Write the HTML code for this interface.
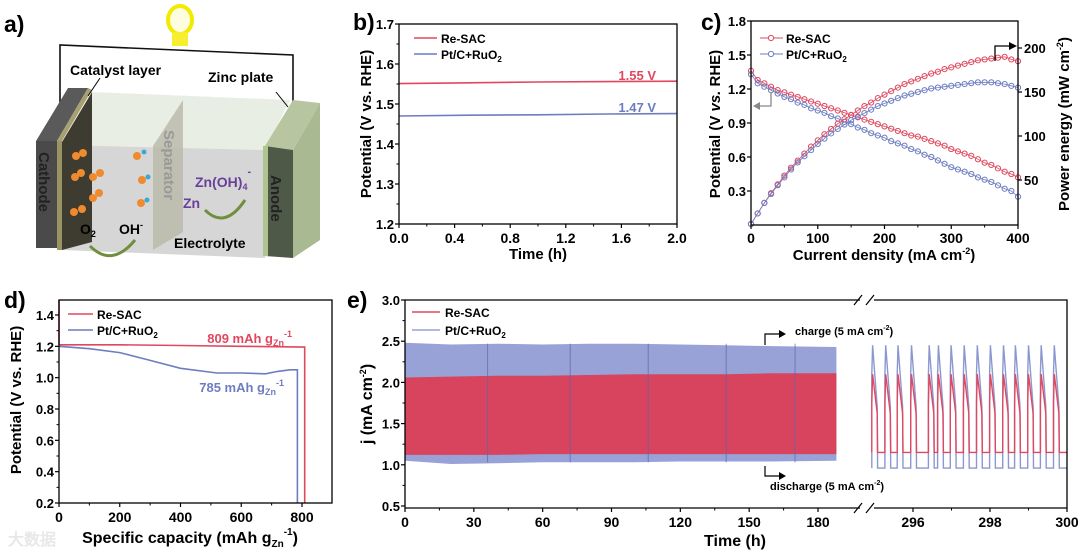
<!DOCTYPE html>
<html><head><meta charset="utf-8">
<style>
html,body{margin:0;padding:0;background:#fff;}
svg{display:block;font-family:"Liberation Sans",Arial,sans-serif;font-weight:bold;}
text{font-weight:bold;}
</style></head>
<body>
<svg id="fig" width="1080" height="552" viewBox="0 0 1080 552">
<g>
  <text x="4" y="32" font-size="23">a)</text>
  <polyline points="60,115 60,45 293,55 293,130" fill="none" stroke="#111" stroke-width="1.6"/>
  <g>
    <ellipse cx="180" cy="20" rx="12" ry="14" fill="#fffde0" stroke="#f2ea00" stroke-width="4"/>
    <rect x="172" y="32" width="16" height="14" fill="#f7ee30"/>
  </g>
  <polygon points="62,145 265,150 290,100 92,92" fill="#e9eee4"/>
  <polygon points="62,145 265,150 265,258 62,250" fill="#d6d6d6"/>
  <polygon points="62,142 92,92 92,242 62,250" fill="#3e3b31"/>
  <polygon points="36,141 57,141 57,248 36,248" fill="#4a4a4a"/>
  <polygon points="36,141 57,141 88,88 68,88" fill="#5a5a5a"/>
  <polygon points="57,141 62,141 62,250 57,250" fill="#9a9462"/>
  <polygon points="57,141 62,141 92,90 88,88" fill="#a7a070"/>
  <polygon points="153,146 183,100 183,232 153,250" fill="#b8b8a8" opacity="0.8"/>
  <polygon points="265,146 293,100 320,103 293,150" fill="#b7c6a0"/>
  <polygon points="293,150 320,103 320,240 293,258" fill="#a9ba92"/>
  <polygon points="265,146 293,150 293,258 265,256" fill="#4e5947"/>
  <polygon points="263,146 268,146 268,256 263,256" fill="#b0c490"/>
  <text x="0" y="0" font-size="15" fill="#222" transform="translate(39,152) rotate(90)">Cathode</text>
  <text x="0" y="0" font-size="15" fill="#999" transform="translate(164,130) rotate(90)">Separator</text>
  <text x="0" y="0" font-size="15" fill="#222" transform="translate(271,175) rotate(90)">Anode</text>
  <text x="70" y="75" font-size="14">Catalyst layer</text>
  <text x="208" y="82" font-size="14">Zinc plate</text>
  <line x1="88" y1="96" x2="100" y2="78" stroke="#000" stroke-width="1"/>
  <line x1="288" y1="107" x2="276" y2="92" stroke="#000" stroke-width="1"/>
  <g fill="#ef8a2e">
    <circle cx="76" cy="156" r="4"/><circle cx="83" cy="153" r="4"/>
    <circle cx="75" cy="177" r="4"/><circle cx="81" cy="173" r="4"/>
    <circle cx="93" cy="177" r="4"/><circle cx="100" cy="173" r="4"/>
    <circle cx="93" cy="198" r="4"/><circle cx="99" cy="193" r="4"/>
    <circle cx="74" cy="212" r="4"/><circle cx="82" cy="209" r="4"/>
    <circle cx="137" cy="156" r="4"/><circle cx="142" cy="180" r="4"/><circle cx="141" cy="203" r="4"/>
  </g>
  <g fill="#3aa8d8"><circle cx="144" cy="152" r="2.5"/><circle cx="148" cy="177" r="2.5"/><circle cx="147" cy="200" r="2.5"/></g>
  <text x="80" y="234" font-size="14">O<tspan font-size="9" dy="3">2</tspan></text>
  <text x="119" y="234" font-size="14">OH<tspan font-size="9" dy="-6">-</tspan></text>
  <text x="174" y="248" font-size="14">Electrolyte</text>
  <text x="195" y="187" font-size="14" fill="#6a3f9a">Zn(OH)<tspan font-size="9" dy="3">4</tspan><tspan font-size="11" dy="-15">-</tspan></text>
  <text x="183" y="208" font-size="14" fill="#6a3f9a">Zn</text>
  <path d="M205,210 Q225,230 245,200" fill="none" stroke="#6f8f3f" stroke-width="3"/>
  <path d="M90,246 Q112,268 135,240" fill="none" stroke="#6f8f3f" stroke-width="3"/>
</g>
<g id="charts"></g>
</svg>
<script>
// ---------- DATA ----------
const bTimes = [0, 0.5, 1.0, 1.5, 2.0];
const bReSAC = [1.551, 1.553, 1.555, 1.556, 1.557];
const bPtC = [1.470, 1.472, 1.473, 1.475, 1.476];
const bYTicks = [1.2, 1.3, 1.4, 1.5, 1.6, 1.7];
const bXTicks = [0.0, 0.4, 0.8, 1.2, 1.6, 2.0];

const cCurrent = [0,10,20,30,40,50,60,70,80,90,100,110,120,130,140,150,160,170,180,190,200,210,220,230,240,250,260,270,280,290,300,310,320,330,340,350,360,370,380,390,400];
const cReV = [1.36,1.28,1.25,1.22,1.19,1.17,1.15,1.13,1.11,1.09,1.07,1.05,1.03,1.01,0.99,0.97,0.95,0.93,0.91,0.89,0.87,0.85,0.83,0.81,0.79,0.78,0.76,0.74,0.72,0.70,0.67,0.65,0.63,0.61,0.58,0.55,0.53,0.50,0.47,0.45,0.42];
const cPtV = [1.33,1.25,1.22,1.19,1.16,1.13,1.11,1.08,1.06,1.03,1.01,0.99,0.96,0.94,0.91,0.89,0.86,0.84,0.81,0.79,0.77,0.74,0.72,0.70,0.67,0.65,0.62,0.60,0.57,0.54,0.51,0.49,0.47,0.45,0.42,0.40,0.38,0.35,0.32,0.30,0.25];
const cReP = [0,12,24,35,45,55,64,72,80,88,95,102,108,114,119,124,129,134,138,143,147,151,155,159,162,165,168,171,173,176,178,180,182,184,186,187,188,189,190,187,185];
const cPtP = [0,12,24,34,44,53,62,70,77,84,91,97,103,108,113,118,122,126,130,134,137,140,143,146,148,150,152,154,155,156,157,158,159,160,161,161,161,160,159,157,155];
const cYTicks = [0.3,0.6,0.9,1.2,1.5,1.8];
const cY2Ticks = [50,100,150,200];
const cXTicks = [0,100,200,300,400];

const dReCap = [0, 200, 400, 600, 809, 809];
const dReV = [1.21, 1.21, 1.205, 1.20, 1.195, 0.2];
const dPtCap = [0, 100, 200, 300, 400, 520, 600, 680, 720, 760, 785, 785];
const dPtV = [1.20, 1.185, 1.16, 1.11, 1.06, 1.03, 1.03, 1.025, 1.04, 1.05, 1.05, 0.2];
const dYTicks = [0.2,0.4,0.6,0.8,1.0,1.2,1.4];
const dXTicks = [0,200,400,600,800];

const eBandTimes = [0, 20, 40, 60, 80, 100, 120, 140, 160, 188];
const ePtTop = [2.48, 2.46, 2.47, 2.46, 2.47, 2.47, 2.46, 2.45, 2.44, 2.43];
const ePtBottom = [1.05, 1.01, 1.02, 1.03, 1.03, 1.03, 1.04, 1.04, 1.04, 1.05];
const eReTop = [2.06, 2.07, 2.08, 2.08, 2.09, 2.10, 2.10, 2.10, 2.11, 2.11];
const eReBottom = [1.12, 1.12, 1.12, 1.13, 1.13, 1.13, 1.13, 1.13, 1.13, 1.13];
const eGridTimes = [36, 72, 106, 140, 170];
const eCyclePeaks = [294.95,295.29,295.61,295.96,296.42,296.66,296.99,297.33,297.67,298.01,298.35,298.66,299.0,299.33,299.67];
const eReHigh = 2.1, eReLow = 1.15, ePtHigh = 2.45, ePtLow = 0.96;
const eYTicks = [0.5,1.0,1.5,2.0,2.5,3.0];
const eXTicksLeft = [0,30,60,90,120,150,180];
const eXTicksRight = [296,298,300];

// ---------- HELPERS ----------
const NS = "http://www.w3.org/2000/svg";
const root = document.getElementById('charts');
function mk(tag, attrs, parent) {
  const el = document.createElementNS(NS, tag);
  for (const k in attrs) el.setAttribute(k, attrs[k]);
  (parent || root).appendChild(el);
  return el;
}
function lin(d0, d1, r0, r1) { return v => r0 + (v - d0) * (r1 - r0) / (d1 - d0); }
function txt(x, y, s, size, anchor, fill, parent) {
  const t = mk('text', {x: x, y: y, 'font-size': size, 'text-anchor': anchor || 'middle', fill: fill || '#000'}, parent);
  t.innerHTML = s;
  return t;
}
function frame(x0, y0, x1, y1, name) {
  const r = mk('rect', {x: x0, y: y0, width: x1 - x0, height: y1 - y0, fill: 'none', stroke: '#000', 'stroke-width': 1.3});
  
  
}
function yAxis(ticks, sy, x, side, fmt, name, minor) {
  const g = mk('g', {});
  
  
  const dir = side === 'left' ? -1 : 1;
  ticks.forEach((v, i) => {
    mk('line', {x1: x, x2: x + dir * 4, y1: sy(v), y2: sy(v), stroke: '#000', 'stroke-width': 1.2}, g);
    const t = txt(side === 'left' ? x - 5 : x + 6, sy(v) + 5, fmt(v), 13, side === 'left' ? 'end' : 'start', '#000', g);
    
    
    if (minor && i < ticks.length - 1) {
      const m = (v + ticks[i + 1]) / 2;
      mk('line', {x1: x, x2: x + dir * 2.5, y1: sy(m), y2: sy(m), stroke: '#000', 'stroke-width': 1}, g);
    }
  });
}
function xAxis(ticks, sx, y, fmt, name, minor, ly) {
  const g = mk('g', {});
  
  
  ticks.forEach((v, i) => {
    mk('line', {x1: sx(v), x2: sx(v), y1: y, y2: y + 4, stroke: '#000', 'stroke-width': 1.2}, g);
    const t = txt(sx(v), ly, fmt(v), 14, 'middle', '#000', g);
    
    
    if (minor && i < ticks.length - 1) {
      const m = (v + ticks[i + 1]) / 2;
      mk('line', {x1: sx(m), x2: sx(m), y1: y, y2: y + 2.5, stroke: '#000', 'stroke-width': 1}, g);
    }
  });
}
function pathFrom(xs, ys, sx, sy) {
  return xs.map((v, i) => (i ? 'L' : 'M') + sx(v).toFixed(1) + ',' + sy(ys[i]).toFixed(1)).join(' ');
}
const RED = '#e0485f', BLUE = '#6d7dc0';

// ---------- PANEL B ----------
(function () {
  const sx = lin(0, 2, 399, 677), sy = lin(1.2, 1.7, 224, 24);
  txt(353, 30, 'b)', 23, 'start');
  const p1 = mk('path', {d: pathFrom(bTimes, bReSAC, sx, sy), fill: 'none', stroke: RED, 'stroke-width': 1.6});
  
  
  const p2 = mk('path', {d: pathFrom(bTimes, bPtC, sx, sy), fill: 'none', stroke: BLUE, 'stroke-width': 1.6});
  
  
  frame(399, 24, 677, 224, 'panel-b-frame');
  yAxis(bYTicks, sy, 399, 'left', v => v.toFixed(1), 'panel-b-y-axis', true);
  xAxis(bXTicks, sx, 224, v => v.toFixed(1), 'panel-b-x-axis', true, 243);
  txt(538, 259, 'Time (h)', 15);
  const yt = txt(0, 0, 'Potential (V vs. RHE)', 15);
  yt.setAttribute('transform', 'translate(371,124) rotate(-90)');
  
  txt(656, 80, '1.55 V', 13, 'end', RED);
  txt(656, 112, '1.47 V', 13, 'end', BLUE);
  const lg = mk('g', {});
  
  
  mk('line', {x1: 414, x2: 437, y1: 38, y2: 38, stroke: RED, 'stroke-width': 1.6}, lg);
  txt(441, 43, 'Re-SAC', 12, 'start', '#000', lg);
  mk('line', {x1: 414, x2: 437, y1: 54, y2: 54, stroke: BLUE, 'stroke-width': 1.6}, lg);
  txt(441, 59, 'Pt/C+RuO<tspan font-size="8" dy="3">2</tspan>', 12, 'start', '#000', lg);
})();

// ---------- PANEL C ----------
(function () {
  const sx = lin(0, 400, 751, 1018), sy = lin(0, 1.8, 225, 21), sy2 = lin(0, 200, 224, 48);
  txt(701, 30, 'c)', 23, 'start');
  const series = [[cReV, sy, RED, 're-sac-polarization'], [cPtV, sy, BLUE, 'ptc-polarization'], [cReP, sy2, RED, 're-sac-power'], [cPtP, sy2, BLUE, 'ptc-power']];
  series.forEach(s => {
    const g = mk('g', {fill: 'none', stroke: s[2], 'stroke-width': 1});
    
    
    cCurrent.forEach((c, i) => {
      const m = mk('circle', {cx: sx(c), cy: s[1](s[0][i]), r: 2.6}, g);
      
    });
    mk('path', {d: pathFrom(cCurrent, s[0], sx, s[1]), 'stroke-width': 0.8}, g);
  });
  frame(751, 21, 1018, 225, 'panel-c-frame');
  yAxis(cYTicks, sy, 751, 'left', v => v.toFixed(1), 'panel-c-y-axis', false);
  yAxis(cY2Ticks, sy2, 1018, 'right', v => String(v), 'panel-c-y2-axis', false);
  xAxis(cXTicks, sx, 225, v => String(v), 'panel-c-x-axis', true, 243);
  txt(884, 260, 'Current density (mA cm<tspan font-size="9" dy="-6">-2</tspan><tspan dy="6">)</tspan>', 15);
  const yt = txt(0, 0, 'Potential (V <tspan font-style="italic">vs.</tspan> RHE)', 15);
  yt.setAttribute('transform', 'translate(720,124) rotate(-90)');
  
  const y2 = txt(0, 0, 'Power energy (mW cm<tspan font-size="9" dy="-6">-2</tspan><tspan dy="6">)</tspan>', 15);
  y2.setAttribute('transform', 'translate(1069,124) rotate(-90)');
  
  const lg = mk('g', {});
  
  
  mk('line', {x1: 760, x2: 783, y1: 38, y2: 38, stroke: RED}, lg);
  mk('circle', {cx: 771, cy: 38, r: 2.6, fill: '#fff', stroke: RED}, lg);
  txt(786, 43, 'Re-SAC', 12, 'start', '#000', lg);
  mk('line', {x1: 760, x2: 783, y1: 54, y2: 54, stroke: BLUE}, lg);
  mk('circle', {cx: 771, cy: 54, r: 2.6, fill: '#fff', stroke: BLUE}, lg);
  txt(786, 59, 'Pt/C+RuO<tspan font-size="8" dy="3">2</tspan>', 12, 'start', '#000', lg);
  mk('path', {d: 'M995,61 L995,46 L1011,46', fill: 'none', stroke: '#000', 'stroke-width': 1.3});
  mk('path', {d: 'M1017,46 L1009,42 L1009,50 Z', fill: '#000'});
  mk('path', {d: 'M771,92 L771,106 L758,106', fill: 'none', stroke: '#888', 'stroke-width': 1.3});
  mk('path', {d: 'M753,106 L760,102 L760,110 Z', fill: '#888'});
})();

// ---------- PANEL D ----------
(function () {
  const sx = lin(0, 800, 59, 302), sy = lin(0.2, 1.4, 503, 315);
  txt(4, 308, 'd)', 23, 'start');
  const r0 = mk('line', {x1: sx(0), x2: sx(0), y1: sy(1.21), y2: 300, stroke: RED, 'stroke-width': 1.6});
  
  const p1 = mk('path', {d: pathFrom(dReCap, dReV, sx, sy), fill: 'none', stroke: RED, 'stroke-width': 1.6});
  
  
  const p2 = mk('path', {d: pathFrom(dPtCap, dPtV, sx, sy), fill: 'none', stroke: BLUE, 'stroke-width': 1.6});
  
  
  frame(59, 300, 332, 503, 'panel-d-frame');
  yAxis(dYTicks, sy, 59, 'left', v => v.toFixed(1), 'panel-d-y-axis', true);
  xAxis(dXTicks, sx, 503, v => String(v), 'panel-d-x-axis', true, 522);
  txt(190, 543, 'Specific capacity (mAh g<tspan font-size="10" dy="4">Zn</tspan><tspan font-size="10" dy="-12">-1</tspan><tspan dy="8">)</tspan>', 16);
  const yt = txt(0, 0, 'Potential (V vs. RHE)', 15);
  yt.setAttribute('transform', 'translate(21,400) rotate(-90)');
  
  txt(292, 343, '809 mAh g<tspan font-size="9" dy="3">Zn</tspan><tspan font-size="9" dy="-9">-1</tspan>', 13, 'end', RED);
  txt(284, 392, '785 mAh g<tspan font-size="9" dy="3">Zn</tspan><tspan font-size="9" dy="-9">-1</tspan>', 13, 'end', BLUE);
  const lg = mk('g', {});
  
  
  mk('line', {x1: 68, x2: 93, y1: 314, y2: 314, stroke: RED, 'stroke-width': 1.6}, lg);
  txt(97, 319, 'Re-SAC', 12, 'start', '#000', lg);
  mk('line', {x1: 68, x2: 93, y1: 330, y2: 330, stroke: BLUE, 'stroke-width': 1.6}, lg);
  txt(97, 335, 'Pt/C+RuO<tspan font-size="8" dy="3">2</tspan>', 12, 'start', '#000', lg);
  txt(8, 545, '大数据', 16, 'start', '#e8e8e8');
})();

// ---------- PANEL E ----------
(function () {
  const sy = lin(0.5, 3.0, 506, 300);
  const sxL = lin(0, 180, 405, 818), sxR = lin(296, 300, 913, 1067);
  txt(347, 308, 'e)', 23, 'start');
  function band(top, bot, fill, name) {
    const pts = eBandTimes.map((t, i) => sxL(t).toFixed(1) + ',' + sy(top[i]).toFixed(1));
    for (let i = eBandTimes.length - 1; i >= 0; i--) pts.push(sxL(eBandTimes[i]).toFixed(1) + ',' + sy(bot[i]).toFixed(1));
    const p = mk('polygon', {points: pts.join(' '), fill: fill});
    
    
  }
  band(ePtTop, ePtBottom, '#98a2d6', 'ptc-cycling-band');
  band(eReTop, eReBottom, '#d8445e', 're-sac-cycling-band');
  eGridTimes.forEach(t => {
    const l = mk('line', {x1: sxL(t), x2: sxL(t), y1: sy(2.47), y2: sy(1.03), stroke: '#5a67a8', 'stroke-width': 1, opacity: 0.7});
    
  });
  function cycles(high, low, color, name) {
    let d = '';
    eCyclePeaks.forEach((tp, i) => {
      const a = sxR(tp - 0.02), b = sxR(tp), c = sxR(tp + 0.12), e = sxR(tp + 0.13);
      const hi = high, lo = low;
      d += (i ? 'L' : 'M') + a.toFixed(1) + ',' + sy(lo).toFixed(1) + ' L' + a.toFixed(1) + ',' + sy(hi - 0.35).toFixed(1) + ' L' + b.toFixed(1) + ',' + sy(hi).toFixed(1) + ' L' + c.toFixed(1) + ',' + sy((hi + lo) / 2).toFixed(1) + ' L' + e.toFixed(1) + ',' + sy(lo).toFixed(1) + ' ';
    });
    d += 'L' + sxR(300).toFixed(1) + ',' + sy(low).toFixed(1);
    const p = mk('path', {d: d, fill: 'none', stroke: color, 'stroke-width': 1.4});
    
    
  }
  cycles(ePtHigh, ePtLow, '#8c97d0', 'ptc-cycles');
  cycles(eReHigh, eReLow, '#e0485f', 're-sac-cycles');
  const fr = mk('path', {d: 'M860,300 L405,300 L405,508 L860,508 M874,508 L1067,508 L1067,300 L874,300', fill: 'none', stroke: '#000', 'stroke-width': 1.3});
  
  
  [[858,300],[870,300],[858,508],[870,508]].forEach(p => mk('line', {x1: p[0] - 4, y1: p[1] + 5, x2: p[0] + 4, y2: p[1] - 5, stroke: '#000', 'stroke-width': 1.2}));
  yAxis(eYTicks, sy, 405, 'left', v => v.toFixed(1), 'panel-e-y-axis', true);
  xAxis(eXTicksLeft, sxL, 508, v => String(v), 'panel-e-x-axis-left', true, 527);
  xAxis(eXTicksRight, sxR, 508, v => String(v), 'panel-e-x-axis-right', true, 527);
  txt(735, 546, 'Time (h)', 16);
  const yt = txt(0, 0, 'j (mA cm<tspan font-size="9" dy="-6">-2</tspan><tspan dy="6">)</tspan>', 16);
  yt.setAttribute('transform', 'translate(372,404) rotate(-90)');
  
  const lg = mk('g', {});
  
  
  mk('line', {x1: 412, x2: 440, y1: 312, y2: 312, stroke: RED, 'stroke-width': 1.6}, lg);
  txt(445, 317, 'Re-SAC', 12, 'start', '#000', lg);
  mk('line', {x1: 412, x2: 440, y1: 330, y2: 330, stroke: '#98a2d6', 'stroke-width': 1.6}, lg);
  txt(445, 335, 'Pt/C+RuO<tspan font-size="8" dy="3">2</tspan>', 12, 'start', '#000', lg);
  mk('path', {d: 'M765,345 L765,334 L780,334', fill: 'none', stroke: '#000', 'stroke-width': 1.2});
  mk('path', {d: 'M786,334 L779,330 L779,338 Z', fill: '#000'});
  txt(795, 335, 'charge (5 mA cm<tspan font-size="7" dy="-5">-2</tspan><tspan dy="5">)</tspan>', 11, 'start');
  mk('path', {d: 'M765,466 L765,476 L780,476', fill: 'none', stroke: '#000', 'stroke-width': 1.2});
  mk('path', {d: 'M786,476 L779,472 L779,480 Z', fill: '#000'});
  txt(770, 490, 'discharge (5 mA cm<tspan font-size="7" dy="-5">-2</tspan><tspan dy="5">)</tspan>', 11, 'start');
})();
</script>
</body></html>
